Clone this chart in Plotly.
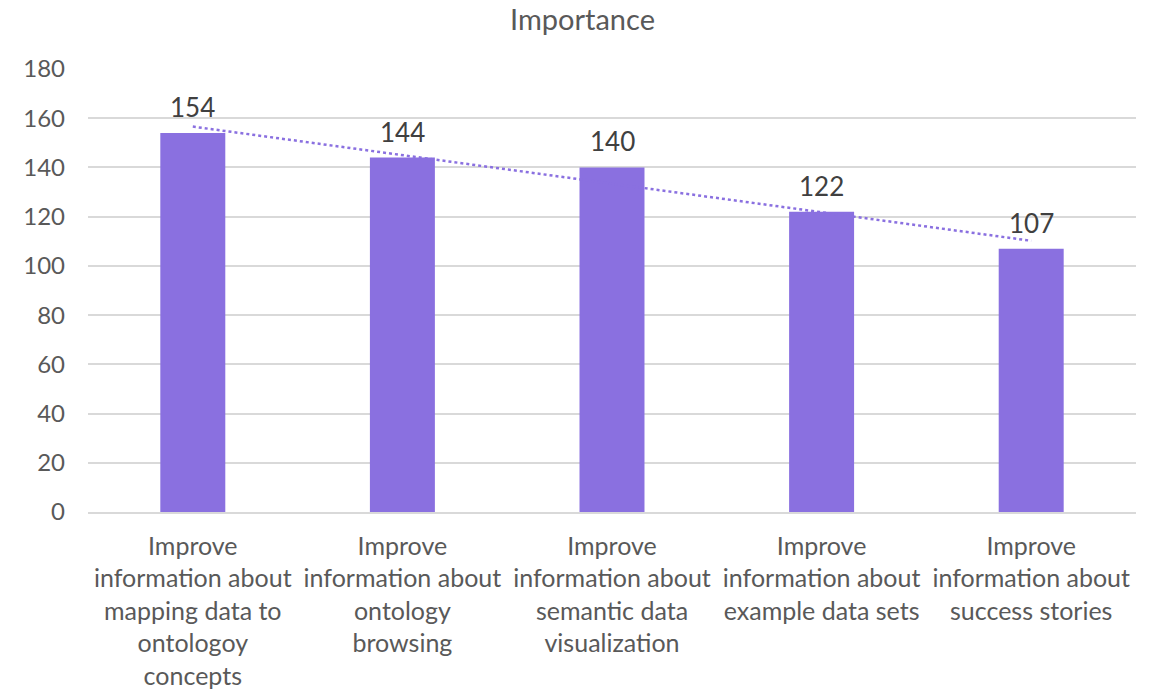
import numpy as np
import plotly.graph_objects as go

categories = [
    "Improve<br>information about<br>mapping data to<br>ontologoy<br>concepts",
    "Improve<br>information about<br>ontology<br>browsing",
    "Improve<br>information about<br>semantic data<br>visualization",
    "Improve<br>information about<br>example data sets",
    "Improve<br>information about<br>success stories",
]
values = [154, 144, 140, 122, 107]

bar_color = "#8A70E0"
text_color = "#595959"
font_family = "Lato, 'Open Sans', sans-serif"

# Linear trendline (as Excel computes) from the values
xi = np.arange(1, len(values) + 1)
slope, intercept = np.polyfit(xi, values, 1)
trend = (slope * xi + intercept).tolist()

fig = go.Figure()
fig.add_trace(go.Bar(
    x=categories, y=values,
    marker=dict(color=bar_color, line=dict(width=0)),
    width=0.31,
    showlegend=False,
))
fig.add_trace(go.Scatter(
    x=categories, y=trend, mode="lines",
    line=dict(color=bar_color, width=2.5, dash="dot"),
    showlegend=False, hoverinfo="skip",
))
for c, v in zip(categories, values):
    fig.add_annotation(
        x=c, y=v, text=str(v), showarrow=False,
        yanchor="bottom", yshift=8,
        font=dict(size=26, color="#404040", family=font_family),
    )

fig.update_layout(
    width=1165, height=698,
    margin=dict(l=88, r=29, t=69, b=186),
    paper_bgcolor="white", plot_bgcolor="white",
    title=dict(text="Importance", x=0.5, xanchor="center", y=1 - 20 / 698, yanchor="middle",
               font=dict(size=29, color=text_color, family=font_family)),
    font=dict(family=font_family, color=text_color),
)
fig.update_yaxes(
    range=[0, 180], dtick=20, showgrid=True, gridcolor="#D9D9D9", gridwidth=1.5,
    zeroline=False, showline=False,
    tickfont=dict(size=24, color=text_color, family=font_family),
    ticks="", ticklabelstandoff=22,
)
fig.update_xaxes(
    showline=True, linecolor="#D9D9D9", linewidth=1.5,
    tickfont=dict(size=25, color=text_color, family=font_family),
    tickangle=0, ticks="", automargin=False, ticklabelstandoff=11,
)

fig.write_html("out.html", config={"displayModeBar": False},
               post_script="document.body.style.margin='0';")
